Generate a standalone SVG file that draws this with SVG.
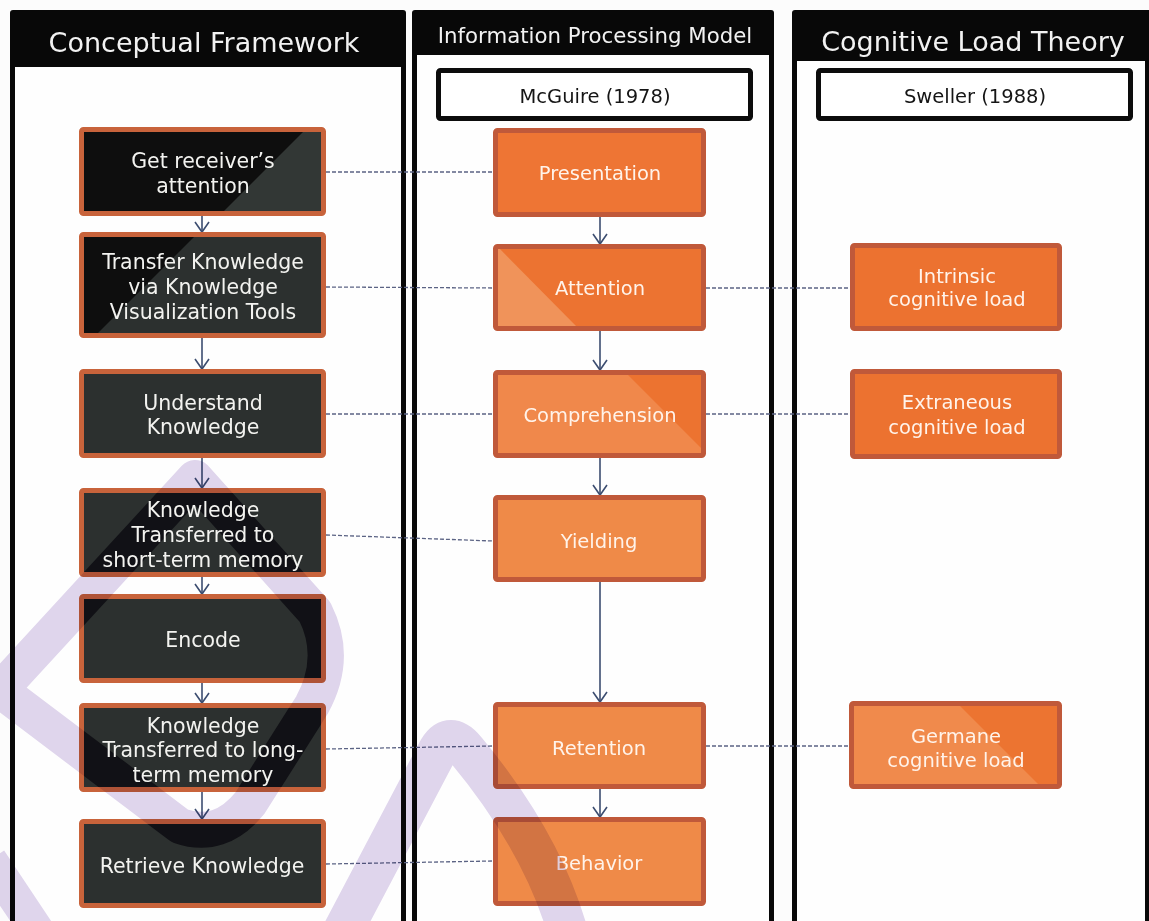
<svg xmlns="http://www.w3.org/2000/svg" width="1149" height="921" viewBox="0 0 1149 921">
  <defs>
    <style>
      .hdr{fill:#080808}
      .pane{fill:#fefefe}
      .htxt{font-family:"DejaVu Sans",Verdana,sans-serif;fill:#f2f2f2;text-anchor:middle}
      .refbox{fill:#ffffff;stroke:#0c0c0c;stroke-width:5}
      .reft{font-family:"DejaVu Sans",Verdana,sans-serif;font-size:19.5px;fill:#151515;text-anchor:middle}
      .edge-d{fill:none;stroke:#c8633b;stroke-width:5}
      .edge-o{fill:none;stroke:#c0593a;stroke-width:5}
      .t{font-family:"DejaVu Sans",Verdana,sans-serif;font-size:20.5px;fill:#f3f3f0;text-anchor:middle}
      .to{font-family:"DejaVu Sans",Verdana,sans-serif;font-size:19.5px;fill:#fff3ea;text-anchor:middle}
      .flow{stroke:#3c4d70;stroke-width:1.6;fill:none;marker-end:url(#chev)}
      .link{stroke:#5b6384;stroke-width:1.3;stroke-dasharray:4 2;fill:none}
      .shade{stroke:#111116}
    </style>
    <marker id="chev" viewBox="-12 -9 14 18" refX="0" refY="0" markerWidth="14" markerHeight="18" markerUnits="userSpaceOnUse" orient="auto">
      <path d="M-10,-7 L0,0 L-10,7" fill="none" stroke="#3c4d70" stroke-width="1.6"/>
    </marker>

    <!-- mark outline; stroke colour comes from each use -->
    <g id="mark-shape" fill="none" stroke-linejoin="round">
      <path stroke-width="36" d="M0,690 L195,478 L315,612 Q338,658 312,705 L250,803 Q220,840 180,826 Z"/>
      <path stroke-width="40" d="M338,940 L438,750 Q450,730 466,750 Q545,845 570,940"/>
      <path stroke-width="34" d="M-10,860 L40,935"/>
    </g>

    <clipPath id="clip-cf3"><rect x="84" y="374" width="237" height="79"/></clipPath>
    <clipPath id="clip-cf4"><rect x="84" y="493" width="237" height="79"/></clipPath>
    <clipPath id="clip-cf5"><rect x="84" y="599" width="237" height="79"/></clipPath>
    <clipPath id="clip-cf6"><rect x="84" y="708" width="237" height="79"/></clipPath>
    <clipPath id="clip-cf7"><rect x="84" y="824" width="237" height="79"/></clipPath>

    <mask id="no-dark">
      <rect width="1149" height="921" fill="#fff"/>
      <rect x="84" y="374" width="237" height="79" fill="#000"/>
      <rect x="84" y="493" width="237" height="79" fill="#000"/>
      <rect x="84" y="599" width="237" height="79" fill="#000"/>
      <rect x="84" y="708" width="237" height="79" fill="#000"/>
      <rect x="84" y="824" width="237" height="79" fill="#000"/>
    </mask>
  </defs>

  <rect width="1149" height="921" fill="#fcfcfc"/>

  <!-- column panels -->
  <g id="panel-framework">
    <rect class="hdr" x="10" y="10" width="396" height="920" rx="3"/>
    <rect class="pane" x="15" y="67" width="386" height="860"/>
    <text class="htxt" x="204" y="52" font-size="27">Conceptual Framework</text>
  </g>
  <g id="panel-ipm">
    <rect class="hdr" x="412" y="10" width="362" height="920" rx="3"/>
    <rect class="pane" x="417" y="55" width="352" height="870"/>
    <text class="htxt" x="595" y="43" font-size="21.3">Information Processing Model</text>
  </g>
  <g id="panel-clt">
    <rect class="hdr" x="792" y="10" width="360" height="920" rx="3"/>
    <rect class="pane" x="797" y="61" width="348" height="865"/>
    <text class="htxt" x="973" y="51" font-size="27">Cognitive Load Theory</text>
  </g>

  <g id="ref-mcguire">
    <rect class="refbox" x="438.5" y="70.5" width="312" height="48" rx="2"/>
    <text class="reft" x="595" y="103">McGuire (1978)</text>
  </g>
  <g id="ref-sweller">
    <rect class="refbox" x="818.5" y="70.5" width="312" height="48" rx="2"/>
    <text class="reft" x="975" y="103">Sweller (1988)</text>
  </g>

  <!-- connectors -->
  <g id="connectors">
    <path class="flow" d="M202,216 V232"/>
    <path class="flow" d="M202,338 V369"/>
    <path class="flow" d="M202,458 V488"/>
    <path class="flow" d="M202,577 V594"/>
    <path class="flow" d="M202,683 V703"/>
    <path class="flow" d="M202,792 V819"/>
    <path class="flow" d="M600,217 V244"/>
    <path class="flow" d="M600,331 V370"/>
    <path class="flow" d="M600,458 V495"/>
    <path class="flow" d="M600,582 V702"/>
    <path class="flow" d="M600,789 V817"/>
    <path class="link" d="M326,172 L493,172"/>
    <path class="link" d="M326,287 L493,288"/>
    <path class="link" d="M706,288 L851,288"/>
    <path class="link" d="M326,414 L493,414"/>
    <path class="link" d="M706,414 L851,414"/>
    <path class="link" d="M326,535 L493,541"/>
    <path class="link" d="M326,749 L493,746"/>
    <path class="link" d="M706,746 L849,746"/>
    <path class="link" d="M326,864 L493,861"/>
  </g>

  <!-- conceptual framework steps -->
  <g id="cf-attention">
    <rect x="81.5" y="129.5" width="242" height="84" fill="#0e0e0e"/>
    <polygon points="306,129 324,129 324,214 221,214" fill="#323735"/>
    <rect class="edge-d" x="81.5" y="129.5" width="242" height="84" rx="2"/>
    <text class="t" x="203" y="168">Get receiver’s</text>
    <text class="t" x="203" y="193">attention</text>
  </g>
  <g id="cf-transfer">
    <rect x="81.5" y="234.5" width="242" height="101" fill="#2c302f"/>
    <polygon points="81,234 197,234 95,336 81,336" fill="#0e0e0e"/>
    <rect class="edge-d" x="81.5" y="234.5" width="242" height="101" rx="2"/>
    <text class="t" x="203" y="269">Transfer Knowledge</text>
    <text class="t" x="203" y="294">via Knowledge</text>
    <text class="t" x="203" y="319">Visualization Tools</text>
  </g>
  <g id="cf-understand">
    <rect x="81.5" y="371.5" width="242" height="84" fill="#2c302f"/>
    <use href="#mark-shape" class="shade" clip-path="url(#clip-cf3)"/>
    <rect class="edge-d" x="81.5" y="371.5" width="242" height="84" rx="2"/>
    <text class="t" x="203" y="410">Understand</text>
    <text class="t" x="203" y="434">Knowledge</text>
  </g>
  <g id="cf-short-term">
    <rect x="81.5" y="490.5" width="242" height="84" fill="#2c302f"/>
    <use href="#mark-shape" class="shade" clip-path="url(#clip-cf4)"/>
    <rect class="edge-d" x="81.5" y="490.5" width="242" height="84" rx="2"/>
    <text class="t" x="203" y="517">Knowledge</text>
    <text class="t" x="203" y="542">Transferred to</text>
    <text class="t" x="203" y="567">short-term memory</text>
  </g>
  <g id="cf-encode">
    <rect x="81.5" y="596.5" width="242" height="84" fill="#2c302f"/>
    <use href="#mark-shape" class="shade" clip-path="url(#clip-cf5)"/>
    <rect class="edge-d" x="81.5" y="596.5" width="242" height="84" rx="2"/>
    <text class="t" x="203" y="647" font-size="22">Encode</text>
  </g>
  <g id="cf-long-term">
    <rect x="81.5" y="705.5" width="242" height="84" fill="#2c302f"/>
    <use href="#mark-shape" class="shade" clip-path="url(#clip-cf6)"/>
    <rect class="edge-d" x="81.5" y="705.5" width="242" height="84" rx="2"/>
    <text class="t" x="203" y="733">Knowledge</text>
    <text class="t" x="203" y="757">Transferred to long-</text>
    <text class="t" x="203" y="782">term memory</text>
  </g>
  <g id="cf-retrieve">
    <rect x="81.5" y="821.5" width="242" height="84" fill="#2c302f"/>
    <use href="#mark-shape" class="shade" clip-path="url(#clip-cf7)"/>
    <rect class="edge-d" x="81.5" y="821.5" width="242" height="84" rx="2"/>
    <text class="t" x="202" y="873">Retrieve Knowledge</text>
  </g>

  <!-- McGuire stages -->
  <g id="ipm-presentation">
    <rect x="495.5" y="130.5" width="208" height="84" fill="#ee7534"/>
    <rect class="edge-o" x="495.5" y="130.5" width="208" height="84" rx="2"/>
    <text class="to" x="600" y="180">Presentation</text>
  </g>
  <g id="ipm-attention">
    <rect x="495.5" y="246.5" width="208" height="82" fill="#ec7331"/>
    <polygon points="495,245 496,245 579,329 495,329" fill="#f0935a"/>
    <rect class="edge-o" x="495.5" y="246.5" width="208" height="82" rx="2"/>
    <text class="to" x="600" y="295">Attention</text>
  </g>
  <g id="ipm-comprehension">
    <rect x="495.5" y="372.5" width="208" height="83" fill="#f0884b"/>
    <polygon points="625,372 704,372 704,451" fill="#ec7330"/>
    <rect class="edge-o" x="495.5" y="372.5" width="208" height="83" rx="2"/>
    <text class="to" x="600" y="422">Comprehension</text>
  </g>
  <g id="ipm-yielding">
    <rect x="495.5" y="497.5" width="208" height="82" fill="#ef8a48"/>
    <rect class="edge-o" x="495.5" y="497.5" width="208" height="82" rx="2"/>
    <text class="to" x="599" y="548">Yielding</text>
  </g>
  <g id="ipm-retention">
    <rect x="495.5" y="704.5" width="208" height="82" fill="#ef8a48"/>
    <rect class="edge-o" x="495.5" y="704.5" width="208" height="82" rx="2"/>
    <text class="to" x="599" y="755">Retention</text>
  </g>
  <g id="ipm-behavior">
    <rect x="495.5" y="819.5" width="208" height="84" fill="#ef8a48"/>
    <rect class="edge-o" x="495.5" y="819.5" width="208" height="84" rx="2"/>
    <text class="to" x="599" y="870">Behavior</text>
  </g>

  <!-- Sweller load types -->
  <g id="clt-intrinsic">
    <rect x="852.5" y="245.5" width="207" height="83" fill="#ec7230"/>
    <rect class="edge-o" x="852.5" y="245.5" width="207" height="83" rx="2"/>
    <text class="to" x="957" y="283">Intrinsic</text>
    <text class="to" x="957" y="306">cognitive load</text>
  </g>
  <g id="clt-extraneous">
    <rect x="852.5" y="371.5" width="207" height="85" fill="#ec7230"/>
    <rect class="edge-o" x="852.5" y="371.5" width="207" height="85" rx="2"/>
    <text class="to" x="957" y="409">Extraneous</text>
    <text class="to" x="957" y="434">cognitive load</text>
  </g>
  <g id="clt-germane">
    <rect x="851.5" y="703.5" width="208" height="83" fill="#f08a4c"/>
    <polygon points="957,703 1060,703 1060,787 1041,787" fill="#ec7431"/>
    <rect class="edge-o" x="851.5" y="703.5" width="208" height="83" rx="2"/>
    <text class="to" x="956" y="743">Germane</text>
    <text class="to" x="956" y="767">cognitive load</text>
  </g>

  <!-- translucent mark laid over the page (dark step boxes carry their own shading) -->
  <g id="mark" mask="url(#no-dark)" style="mix-blend-mode:multiply">
    <use href="#mark-shape" stroke="#e0d6ed"/>
  </g>
</svg>
